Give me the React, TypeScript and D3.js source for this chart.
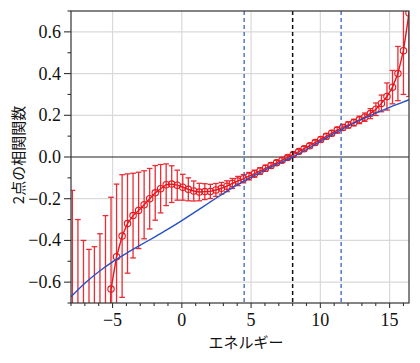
import React from 'react';
import * as d3 from 'd3';

// energy bins of the measured points
const energy = [
  -7.9, -7.5, -7.1, -6.7, -6.31, -5.91, -5.51, -5.11, -4.71, -4.31,
  -3.92, -3.52, -3.12, -2.72, -2.32, -1.92, -1.53, -1.13, -0.73, -0.33,
  0.07, 0.47, 0.86, 1.26, 1.66, 2.06, 2.46, 2.86, 3.26, 3.65,
  4.05, 4.45, 4.85, 5.25, 5.65, 6.04, 6.44, 6.84, 7.24, 7.64,
  8.04, 8.44, 8.83, 9.23, 9.63, 10.03, 10.43, 10.82, 11.22, 11.62,
  12.02, 12.42, 12.82, 13.21, 13.61, 14.01, 14.41, 14.81, 15.21, 15.6,
  16.0, 16.4
];
const corr = [
  -1.6, -1.7, -1.9, -2.0, -1.9, -1.8, -1.8, -0.633, -0.478, -0.379,
  -0.319, -0.281, -0.256, -0.229, -0.2, -0.172, -0.152, -0.133, -0.13, -0.135,
  -0.145, -0.155, -0.163, -0.168, -0.166, -0.165, -0.158, -0.15, -0.14, -0.127,
  -0.115, -0.104, -0.092, -0.08, -0.067, -0.054, -0.041, -0.028, -0.015, -0.002,
  0.012, 0.026, 0.04, 0.054, 0.069, 0.084, 0.099, 0.114, 0.129, 0.142,
  0.154, 0.165, 0.178, 0.191, 0.208, 0.229, 0.257, 0.29, 0.335, 0.4,
  0.51, 0.69
];
const corrErr = [
  1.44, 1.4, 1.5, 1.557, 1.47, 1.432, 1.519, 0.44, 0.348, 0.294,
  0.238, 0.203, 0.183, 0.163, 0.145, 0.131, 0.116, 0.1, 0.088, 0.072,
  0.062, 0.055, 0.048, 0.042, 0.038, 0.034, 0.031, 0.028, 0.026, 0.024,
  0.022, 0.02, 0.018, 0.017, 0.016, 0.015, 0.013, 0.012, 0.011, 0.01,
  0.01, 0.01, 0.011, 0.011, 0.012, 0.012, 0.013, 0.013, 0.014, 0.014,
  0.015, 0.016, 0.018, 0.02, 0.024, 0.03, 0.04, 0.065, 0.08, 0.13,
  0.21, 0.4
];

// model curve (blue)
const modelX = [-8, -7, -6, -5, -4, -3, -2, -1, 0, 1, 2, 3, 4, 5, 6, 7, 8, 9, 10, 11, 12, 13, 14, 15, 16, 16.4];
const modelY = [
  -0.67, -0.605, -0.55, -0.503, -0.462, -0.423, -0.385, -0.346, -0.305, -0.262,
  -0.218, -0.175, -0.134, -0.097, -0.063, -0.031, 0.0, 0.036, 0.075, 0.113,
  0.148, 0.18, 0.21, 0.238, 0.264, 0.275
];

const xTicks = [-5, 0, 5, 10, 15];
const xMinor = [-8, -7, -6, -4, -3, -2, -1, 1, 2, 3, 4, 6, 7, 8, 9, 11, 12, 13, 14, 16];
const yTicks = [-0.6, -0.4, -0.2, 0.0, 0.2, 0.4, 0.6];
const yMinor = [-0.7, -0.5, -0.3, -0.1, 0.1, 0.3, 0.5, 0.7];
const blueMarks = [4.5, 11.5];
const blackMarks = [8];

const W = 420, H = 363;
const margin = { left: 71, right: 11, top: 11, bottom: 60 };
const serif = "'Liberation Serif', 'Times New Roman', 'DejaVu Serif', serif";
const cjk = "'Noto Sans CJK JP', 'Noto Sans', sans-serif";

export default function App() {
  const x = d3.scaleLinear().domain([-8, 16.4]).range([margin.left, W - margin.right]);
  const y = d3.scaleLinear().domain([-0.7, 0.7]).range([H - margin.bottom, margin.top]);
  const [x0, x1] = x.range();
  const [y0, y1] = y.range();

  const redLine = d3.line<number>().x((d, i) => x(energy[i])).y(d => y(d))(corr) || '';
  const blueLine = d3
    .line<number>()
    .x((d, i) => x(modelX[i]))
    .y(d => y(d))
    .curve(d3.curveCatmullRom)(modelY) || '';

  const fmt = d3.format('.1f');
  const minus = (s: string) => s.replace('-', '\u2212');
  const red = '#e8161e';
  const capW = 2.8;

  return (
    <svg width={W} height={H} style={{ position: 'absolute', left: 0, top: 0, background: '#fff' }}>
      <defs>
        <clipPath id="plot">
          <rect x={x0} y={y1} width={x1 - x0} height={y0 - y1} />
        </clipPath>
      </defs>
      <g className="grid" stroke="#d9d9d9" strokeWidth={1.2}>
        {xTicks.map(t => (
          <line key={'gx' + t} x1={x(t)} x2={x(t)} y1={y1} y2={y0} />
        ))}
        {yTicks.filter(t => t !== 0).map(t => (
          <line key={'gy' + t} x1={x0} x2={x1} y1={y(t)} y2={y(t)} />
        ))}
      </g>
      <line x1={x0} x2={x1} y1={y(0)} y2={y(0)} stroke="#222" strokeWidth={1.2} />
      <g clipPath="url(#plot)">
        <g className="errbars" stroke={red} strokeWidth={1.3} opacity={0.9}>
          {corr.map((v, i) => {
            const cx = x(energy[i]);
            const hi = y(v + corrErr[i]);
            const lo = y(v - corrErr[i]);
            return (
              <g key={i}>
                <line x1={cx} x2={cx} y1={hi} y2={lo} />
                <line x1={cx - capW} x2={cx + capW} y1={hi} y2={hi} />
                <line x1={cx - capW} x2={cx + capW} y1={lo} y2={lo} />
              </g>
            );
          })}
        </g>
        <path d={redLine} fill="none" stroke={red} strokeWidth={1.4} />
        {corr.map((v, i) => (
          <circle key={'c' + i} cx={x(energy[i])} cy={y(v)} r={3.2} fill="none" stroke={red} strokeWidth={1.1} />
        ))}
        <path d={blueLine} fill="none" stroke="#2452c6" strokeWidth={1.4} />
        {blueMarks.map(t => (
          <line key={'b' + t} x1={x(t)} x2={x(t)} y1={y1} y2={y0} stroke="#3a62c4" strokeWidth={1.3} strokeDasharray="4,3" />
        ))}
        {blackMarks.map(t => (
          <line key={'k' + t} x1={x(t)} x2={x(t)} y1={y1} y2={y0} stroke="#111" strokeWidth={1.5} strokeDasharray="4,3" />
        ))}
      </g>
      <rect x={x0} y={y1} width={x1 - x0} height={y0 - y1} fill="none" stroke="#333" strokeWidth={1.2} />
      <g className="xAxis" stroke="#333" strokeWidth={1.1}>
        {xTicks.map(t => (
          <line key={'xt' + t} x1={x(t)} x2={x(t)} y1={y0} y2={y0 + 5} />
        ))}
        {xMinor.map(t => (
          <line key={'xm' + t} x1={x(t)} x2={x(t)} y1={y0} y2={y0 + 3} />
        ))}
      </g>
      <g className="yAxis" stroke="#333" strokeWidth={1.1}>
        {yTicks.map(t => (
          <line key={'yt' + t} x1={x0 - 7} x2={x0} y1={y(t)} y2={y(t)} />
        ))}
        {yMinor.map(t => (
          <line key={'ym' + t} x1={x0 - 3.5} x2={x0} y1={y(t)} y2={y(t)} />
        ))}
      </g>
      {xTicks.map(t => (
        <text key={'xl' + t} x={x(t)} y={y0 + 23} textAnchor="middle" fontFamily={serif} fontSize={18} fill="#111">
          {minus(String(t))}
        </text>
      ))}
      {yTicks.map(t => (
        <text key={'yl' + t} x={x0 - 10} y={y(t) + 6} textAnchor="end" fontFamily={serif} fontSize={18} fill="#111">
          {minus(fmt(t))}
        </text>
      ))}
      <text x={(x0 + x1) / 2 + 6} y={y0 + 45} textAnchor="middle" fontFamily={cjk} fontSize={15} fill="#111">
        エネルギー
      </text>
      <text
        transform={`translate(24, ${(y0 + y1) / 2 - 2}) rotate(-90)`}
        textAnchor="middle"
        fontFamily={cjk}
        fontSize={15}
        fill="#111"
      >
        2点の相関関数
      </text>
    </svg>
  );
}
